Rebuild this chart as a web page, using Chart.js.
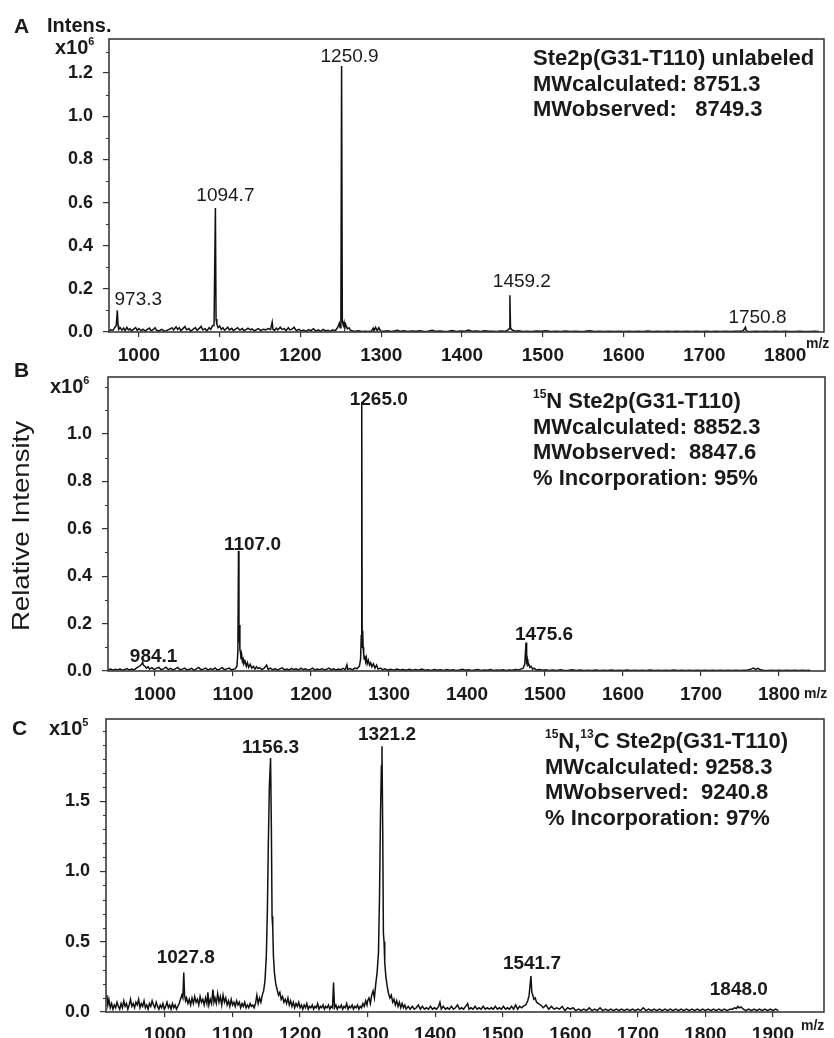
<!DOCTYPE html>
<html>
<head>
<meta charset="utf-8">
<title>Ste2p(G31-T110) MALDI spectra</title>
<script src="https://cdn.jsdelivr.net/npm/chart.js@4.4.1/dist/chart.umd.min.js"></script>
<style>
  html, body { margin: 0; padding: 0; background: #fff; }
  #wrap { position: relative; width: 834px; height: 1038px; overflow: hidden; }
  canvas { position: absolute; left: 0; }
</style>
</head>
<body>
<div id="wrap">
  <canvas id="panelA" width="834" height="372" style="top:0px"></canvas>
  <canvas id="panelB" width="834" height="372" style="top:340px"></canvas>
  <canvas id="panelC" width="834" height="358" style="top:680px"></canvas>
</div>
<script>
// ---- data: [m/z, intensity] ----
// A: unlabeled, intensity x10^6
const spectrumA = [
  [963,0.005],[965,0.01],[968,0.008],[970,0.02],[972,0.03],[973.3,0.10],[974.2,0.03],[975,0.012],[977,0.02],[979,0.008],
  [981,0.018],[983,0.006],[985,0.022],[987,0.01],[989,0.015],[991,0.005],[993,0.012],[996,0.02],[998,0.007],[1000,0.016],
  [1003,0.006],[1005,0.013],[1008,0.004],[1010,0.011],[1013,0.018],[1015,0.006],[1018,0.012],[1020,0.02],[1022,0.008],[1025,0.005],
  [1028,0.012],[1030,0.008],[1033,0.003],[1036,0.01],[1039,0.015],[1041,0.02],[1043,0.009],[1046,0.024],[1048,0.012],[1050,0.02],
  [1052,0.006],[1055,0.018],[1057,0.025],[1059,0.01],[1062,0.016],[1064,0.004],[1067,0.012],[1070,0.02],[1072,0.008],[1075,0.018],
  [1077,0.026],[1079,0.01],[1082,0.015],[1084,0.005],[1087,0.02],[1089,0.012],[1091,0.028],[1093,0.03],[1094.7,0.575],[1095.5,0.06],
  [1096.5,0.035],[1098,0.02],[1100,0.028],[1102,0.012],[1104,0.02],[1106,0.008],[1108,0.015],[1110,0.022],[1112,0.01],[1115,0.017],
  [1117,0.006],[1120,0.014],[1122,0.02],[1125,0.009],[1128,0.016],[1130,0.006],[1133,0.012],[1135,0.018],[1138,0.01],[1140,0.014],
  [1143,0.005],[1146,0.012],[1148,0.016],[1151,0.007],[1154,0.013],[1157,0.01],[1160,0.016],[1163,0.012],[1165,0.046],[1166,0.012],
  [1168,0.008],[1170,0.018],[1172,0.01],[1175,0.022],[1177,0.012],[1180,0.016],[1182,0.006],[1185,0.02],[1187,0.01],[1190,0.014],
  [1192,0.022],[1195,0.006],[1198,0.012],[1201,0.005],[1204,0.009],[1207,0.003],[1210,0.011],[1213,0.006],[1216,0.015],[1219,0.004],
  [1222,0.01],[1225,0.003],[1228,0.012],[1231,0.005],[1234,0.008],[1237,0.003],[1240,0.01],[1243,0.006],[1245,0.015],[1247,0.03],
  [1248,0.04],[1249,0.02],[1250,0.04],[1250.9,1.233],[1251.8,0.05],[1253,0.03],[1254,0.045],[1255,0.02],[1256,0.035],[1258,0.015],
  [1260,0.02],[1262,0.008],[1265,0.005],[1268,0.003],[1272,0.006],[1276,0.002],[1280,0.004],[1284,0.002],[1288,0.005],[1290,0.018],
  [1291,0.004],[1293,0.022],[1295,0.006],[1297,0.02],[1299,0.005],[1303,0.003],[1308,0.006],[1312,0.002],[1316,0.005],[1320,0.008],
  [1324,0.003],[1328,0.006],[1333,0.002],[1338,0.005],[1343,0.003],[1348,0.006],[1353,0.002],[1358,0.004],[1363,0.008],[1368,0.003],
  [1373,0.005],[1378,0.002],[1383,0.004],[1388,0.007],[1393,0.002],[1398,0.005],[1403,0.003],[1408,0.009],[1413,0.003],[1418,0.005],
  [1423,0.002],[1428,0.006],[1433,0.003],[1438,0.004],[1443,0.002],[1448,0.005],[1452,0.003],[1455,0.006],[1457,0.01],[1458.3,0.015],
  [1459.2,0.17],[1460,0.02],[1461,0.012],[1463,0.008],[1466,0.004],[1470,0.006],[1475,0.002],[1480,0.004],[1486,0.002],[1492,0.005],
  [1498,0.003],[1504,0.006],[1510,0.002],[1516,0.004],[1522,0.002],[1528,0.005],[1534,0.002],[1540,0.004],[1546,0.002],[1552,0.003],
  [1558,0.006],[1564,0.002],[1570,0.003],[1576,0.002],[1582,0.004],[1588,0.002],[1594,0.003],[1600,0.002],[1606,0.004],[1612,0.002],
  [1618,0.003],[1624,0.002],[1630,0.005],[1636,0.002],[1642,0.003],[1648,0.002],[1654,0.004],[1660,0.002],[1666,0.003],[1672,0.002],
  [1678,0.004],[1684,0.002],[1690,0.003],[1696,0.002],[1702,0.004],[1708,0.002],[1714,0.003],[1720,0.002],[1726,0.003],[1732,0.002],
  [1738,0.003],[1744,0.004],[1748,0.006],[1750.8,0.022],[1751.6,0.008],[1753,0.004],[1758,0.002],[1764,0.003],[1770,0.002],[1776,0.003],
  [1782,0.002],[1788,0.003],[1794,0.002],[1800,0.003],[1806,0.002],[1812,0.002],[1818,0.003],[1824,0.002],[1830,0.002],[1836,0.003],
  [1842,0.002]
]
const peakMzA = [973.3, 1094.7, 1250.9, 1459.2, 1750.8]
const peakIntA = [0.10, 0.575, 1.233, 0.17, 0.022]
const peakTextA = ['973.3', '1094.7', '1250.9', '1459.2', '1750.8']
const infoA = [
  [['Ste2p(G31-T110) unlabeled', false]],
  [['MWcalculated: 8751.3', false]],
  [['MWobserved:   8749.3', false]]
]

// B: 15N labelled, intensity x10^6
const spectrumB = [
  [940,0.004],[943,0.008],[946,0.003],[949,0.007],[952,0.004],[955,0.009],[958,0.003],[961,0.006],[964,0.01],[967,0.004],
  [970,0.008],[973,0.005],[976,0.012],[979,0.018],[981,0.022],[983,0.03],[984.1,0.037],[985,0.025],[987,0.02],[989,0.012],
  [991,0.018],[993,0.008],[996,0.014],[999,0.006],[1002,0.012],[1005,0.015],[1008,0.005],[1011,0.01],[1014,0.016],[1017,0.006],
  [1020,0.011],[1023,0.004],[1026,0.009],[1029,0.015],[1032,0.005],[1035,0.008],[1038,0.012],[1041,0.004],[1044,0.007],[1047,0.011],
  [1050,0.003],[1053,0.009],[1056,0.015],[1059,0.005],[1062,0.008],[1065,0.012],[1068,0.004],[1071,0.01],[1074,0.006],[1077,0.013],
  [1080,0.004],[1083,0.008],[1086,0.015],[1089,0.005],[1092,0.009],[1095,0.012],[1098,0.005],[1101,0.008],[1103,0.01],[1105,0.02],
  [1106.2,0.08],[1107.0,0.506],[1107.6,0.12],[1108.2,0.194],[1108.8,0.09],[1109.5,0.08],[1110.2,0.05],[1111,0.07],[1112,0.04],[1113,0.05],
  [1114,0.03],[1115.5,0.04],[1117,0.02],[1118.5,0.035],[1120,0.015],[1122,0.028],[1124,0.012],[1126,0.02],[1128,0.008],[1130,0.018],
  [1132,0.01],[1134,0.014],[1137,0.006],[1140,0.012],[1143,0.025],[1145,0.007],[1148,0.012],[1151,0.005],[1154,0.01],[1157,0.004],
  [1160,0.009],[1163,0.013],[1166,0.005],[1169,0.008],[1172,0.004],[1175,0.011],[1178,0.006],[1181,0.009],[1184,0.004],[1187,0.012],
  [1190,0.006],[1193,0.009],[1196,0.003],[1199,0.007],[1202,0.012],[1205,0.004],[1208,0.008],[1211,0.005],[1214,0.01],[1217,0.004],
  [1220,0.007],[1223,0.012],[1226,0.005],[1229,0.009],[1232,0.004],[1235,0.008],[1238,0.005],[1241,0.011],[1244,0.006],[1246,0.026],
  [1247,0.007],[1250,0.01],[1253,0.005],[1256,0.012],[1259,0.01],[1262,0.02],[1263.5,0.05],[1264.4,0.15],[1265.0,1.135],[1265.6,0.1],
  [1266.2,0.17],[1266.8,0.1],[1267.5,0.07],[1268.3,0.05],[1269,0.065],[1270,0.04],[1271,0.055],[1272,0.03],[1273.5,0.045],[1275,0.025],
  [1276.5,0.035],[1278,0.018],[1280,0.03],[1282,0.012],[1284,0.025],[1286,0.008],[1289,0.012],[1292,0.005],[1295,0.009],[1298,0.004],
  [1302,0.007],[1306,0.003],[1310,0.008],[1314,0.004],[1318,0.006],[1322,0.003],[1326,0.007],[1330,0.003],[1334,0.006],[1338,0.003],
  [1342,0.008],[1346,0.003],[1350,0.005],[1354,0.002],[1358,0.006],[1362,0.003],[1366,0.005],[1370,0.002],[1374,0.006],[1378,0.003],
  [1382,0.005],[1386,0.002],[1390,0.004],[1394,0.007],[1398,0.003],[1402,0.005],[1406,0.002],[1410,0.004],[1414,0.006],[1418,0.002],
  [1422,0.004],[1426,0.003],[1430,0.006],[1434,0.002],[1438,0.004],[1442,0.003],[1446,0.005],[1450,0.002],[1454,0.004],[1458,0.003],
  [1462,0.006],[1466,0.004],[1469,0.008],[1472,0.012],[1474,0.03],[1475.6,0.12],[1476.4,0.04],[1477.2,0.05],[1478,0.025],[1479,0.03],
  [1480.5,0.015],[1482,0.02],[1484,0.008],[1486,0.012],[1489,0.004],[1493,0.006],[1497,0.003],[1501,0.005],[1505,0.002],[1510,0.004],
  [1515,0.002],[1520,0.005],[1525,0.002],[1530,0.003],[1535,0.005],[1540,0.002],[1545,0.004],[1550,0.002],[1555,0.003],[1560,0.002],
  [1565,0.004],[1570,0.002],[1575,0.003],[1580,0.002],[1585,0.004],[1590,0.002],[1595,0.003],[1600,0.002],[1605,0.004],[1610,0.002],
  [1615,0.003],[1620,0.002],[1625,0.003],[1630,0.002],[1635,0.004],[1640,0.002],[1645,0.003],[1650,0.002],[1655,0.003],[1660,0.002],
  [1665,0.004],[1670,0.002],[1675,0.003],[1680,0.002],[1685,0.003],[1690,0.002],[1695,0.003],[1700,0.002],[1705,0.003],[1710,0.002],
  [1715,0.003],[1720,0.002],[1725,0.003],[1730,0.002],[1735,0.003],[1740,0.002],[1745,0.003],[1750,0.002],[1755,0.003],[1760,0.004],
  [1764,0.008],[1767,0.012],[1770,0.007],[1773,0.011],[1776,0.005],[1780,0.003],[1785,0.002],[1790,0.003],[1795,0.002],[1800,0.003],
  [1805,0.002],[1810,0.003],[1815,0.002],[1820,0.003],[1825,0.002],[1830,0.003],[1835,0.002],[1840,0.003]
]
const peakMzB = [984.1, 1107.0, 1265.0, 1475.6]
const peakIntB = [0.037, 0.506, 1.135, 0.12]
const peakTextB = ['984.1', '1107.0', '1265.0', '1475.6']
const infoB = [
  [['15', true], ['N Ste2p(G31-T110)', false]],
  [['MWcalculated: 8852.3', false]],
  [['MWobserved:  8847.6', false]],
  [['% Incorporation: 95%', false]]
]

// C: 15N,13C labelled, intensity x10^5
const spectrumC = [
  [914,0.12],[915.5,0.05],[917,0.09],[919,0.03],[921,0.06],[923,0.02],[925,0.05],[927,0.03],[929,0.07],[931,0.04],
  [933,0.02],[935,0.06],[937,0.03],[939,0.08],[941,0.04],[943,0.06],[945,0.02],[947,0.05],[949,0.09],[951,0.04],
  [953,0.06],[955,0.03],[957,0.07],[959,0.05],[961,0.09],[963,0.03],[965,0.06],[967,0.04],[969,0.08],[971,0.03],
  [973,0.05],[975,0.02],[977,0.06],[979,0.04],[981,0.08],[983,0.05],[985,0.03],[987,0.07],[989,0.04],[991,0.02],
  [993,0.05],[995,0.03],[997,0.06],[999,0.02],[1001,0.04],[1003,0.07],[1005,0.03],[1007,0.05],[1009,0.02],[1011,0.06],
  [1013,0.03],[1015,0.05],[1017,0.02],[1019,0.04],[1021,0.06],[1023,0.09],[1025,0.12],[1026.5,0.1],[1027.8,0.28],[1029,0.12],
  [1030.5,0.08],[1032,0.1],[1034,0.06],[1036,0.09],[1038,0.05],[1040,0.1],[1042,0.06],[1044,0.11],[1046,0.07],[1048,0.09],
  [1050,0.05],[1052,0.11],[1054,0.07],[1056,0.09],[1058,0.05],[1060,0.1],[1062,0.06],[1063.5,0.14],[1065,0.05],[1067,0.09],
  [1069,0.06],[1071,0.16],[1072.5,0.07],[1074,0.1],[1076,0.06],[1078,0.13],[1080,0.07],[1082,0.11],[1084,0.05],[1086,0.12],
  [1088,0.07],[1090,0.1],[1092,0.05],[1094,0.08],[1096,0.04],[1098,0.09],[1100,0.05],[1102,0.07],[1104,0.04],[1106,0.08],
  [1108,0.05],[1110,0.07],[1112,0.03],[1114,0.06],[1116,0.04],[1118,0.07],[1120,0.03],[1122,0.05],[1124,0.03],[1126,0.06],
  [1128,0.04],[1130,0.05],[1132,0.03],[1134,0.06],[1136,0.12],[1138,0.06],[1140,0.1],[1142,0.07],[1144,0.12],[1146,0.15],
  [1148,0.22],[1150,0.4],[1151.5,0.7],[1153,1.2],[1154.5,1.6],[1156.3,1.807],[1157.5,1.3],[1158.5,0.68],[1159.5,0.6],[1160.5,0.4],
  [1162,0.28],[1164,0.2],[1166,0.16],[1168,0.12],[1170,0.14],[1172,0.09],[1174,0.11],[1176,0.07],[1178,0.09],[1180,0.06],
  [1182,0.1],[1184,0.05],[1186,0.08],[1188,0.04],[1190,0.07],[1192,0.03],[1194,0.06],[1196,0.04],[1198,0.07],[1200,0.03],
  [1202,0.05],[1204,0.02],[1206,0.05],[1208,0.03],[1210,0.06],[1212,0.02],[1214,0.04],[1216,0.03],[1218,0.05],[1220,0.02],
  [1222,0.04],[1224,0.03],[1226,0.06],[1228,0.02],[1230,0.04],[1232,0.03],[1234,0.05],[1236,0.02],[1238,0.04],[1240,0.03],
  [1242,0.05],[1244,0.02],[1246,0.04],[1248,0.03],[1249.5,0.21],[1251,0.03],[1253,0.05],[1255,0.02],[1257,0.04],[1259,0.03],
  [1261,0.05],[1263,0.02],[1265,0.04],[1267,0.03],[1269,0.06],[1271,0.02],[1273,0.04],[1275,0.03],[1277,0.05],[1279,0.02],
  [1281,0.04],[1283,0.03],[1285,0.05],[1287,0.02],[1289,0.04],[1291,0.03],[1293,0.06],[1295,0.04],[1297,0.08],[1299,0.05],
  [1300,0.08],[1302,0.1],[1304,0.06],[1306,0.12],[1308,0.15],[1310,0.1],[1312,0.2],[1314,0.28],[1316,0.42],[1317.5,0.8],
  [1319,1.4],[1320.3,1.75],[1321.2,1.89],[1322.3,1.3],[1323.3,0.56],[1324.3,0.5],[1325.3,0.35],[1327,0.25],[1329,0.18],[1331,0.13],
  [1333,0.1],[1335,0.12],[1337,0.07],[1339,0.09],[1341,0.05],[1343,0.08],[1345,0.04],[1347,0.07],[1349,0.03],[1351,0.06],
  [1353,0.03],[1355,0.05],[1357,0.02],[1360,0.04],[1363,0.02],[1366,0.04],[1369,0.02],[1372,0.03],[1375,0.05],[1378,0.02],
  [1381,0.04],[1384,0.02],[1387,0.03],[1390,0.02],[1393,0.04],[1396,0.02],[1399,0.03],[1402,0.02],[1405,0.04],[1407,0.07],
  [1409,0.02],[1412,0.04],[1415,0.02],[1418,0.03],[1421,0.02],[1424,0.04],[1427,0.02],[1430,0.03],[1433,0.05],[1436,0.02],
  [1439,0.03],[1442,0.02],[1445,0.04],[1448,0.06],[1450,0.02],[1453,0.03],[1456,0.02],[1459,0.04],[1462,0.02],[1465,0.03],
  [1468,0.02],[1471,0.04],[1474,0.02],[1477,0.03],[1480,0.02],[1483,0.03],[1486,0.02],[1489,0.04],[1492,0.02],[1495,0.03],
  [1498,0.02],[1501,0.04],[1504,0.02],[1507,0.03],[1510,0.02],[1513,0.04],[1516,0.02],[1519,0.05],[1522,0.02],[1525,0.04],
  [1528,0.03],[1530,0.04],[1534,0.05],[1537,0.08],[1539,0.12],[1541.7,0.256],[1543,0.14],[1544.5,0.12],[1546,0.09],[1548,0.1],
  [1550,0.07],[1553,0.06],[1556,0.05],[1560,0.03],[1564,0.05],[1568,0.02],[1572,0.04],[1576,0.02],[1580,0.03],[1584,0.02],
  [1588,0.04],[1592,0.01],[1596,0.03],[1600,0.02],[1604,0.03],[1608,0.01],[1612,0.02],[1616,0.01],[1620,0.02],[1624,0.01],
  [1628,0.03],[1632,0.01],[1636,0.02],[1640,0.01],[1644,0.03],[1648,0.01],[1652,0.02],[1656,0.01],[1660,0.02],[1664,0.01],
  [1668,0.02],[1672,0.01],[1676,0.02],[1680,0.01],[1684,0.02],[1688,0.01],[1692,0.02],[1696,0.01],[1700,0.02],[1704,0.01],
  [1708,0.03],[1712,0.01],[1716,0.02],[1720,0.01],[1724,0.02],[1728,0.01],[1732,0.02],[1736,0.01],[1740,0.02],[1744,0.01],
  [1748,0.02],[1752,0.01],[1756,0.02],[1760,0.01],[1764,0.02],[1768,0.01],[1772,0.02],[1776,0.01],[1780,0.02],[1784,0.01],
  [1788,0.02],[1792,0.01],[1796,0.02],[1800,0.01],[1804,0.02],[1808,0.01],[1812,0.02],[1816,0.01],[1820,0.02],[1824,0.01],
  [1828,0.02],[1832,0.01],[1836,0.02],[1840,0.02],[1843,0.03],[1846,0.025],[1848,0.04],[1850,0.03],[1853,0.035],[1856,0.02],
  [1860,0.01],[1864,0.02],[1868,0.01],[1872,0.02],[1876,0.01],[1880,0.02],[1884,0.01],[1888,0.02],[1892,0.01],[1896,0.02],
  [1900,0.01],[1904,0.02],[1908,0.01]
]
const peakMzC = [1027.8, 1156.3, 1321.2, 1541.7, 1848.0]
const peakIntC = [0.28, 1.807, 1.89, 0.256, 0.04]
const peakTextC = ['1027.8', '1156.3', '1321.2', '1541.7', '1848.0']
const infoC = [
  [['15', true], ['N,', false], ['13', true], ['C Ste2p(G31-T110)', false]],
  [['MWcalculated: 9258.3', false]],
  [['MWobserved:  9240.8', false]],
  [['% Incorporation: 97%', false]]
]

// ---- axis ticks ----
const xTicksAB = [1000, 1100, 1200, 1300, 1400, 1500, 1600, 1700, 1800]
const xLabelsAB = ['1000', '1100', '1200', '1300', '1400', '1500', '1600', '1700', '1800']
const xTicksC = [1000, 1100, 1200, 1300, 1400, 1500, 1600, 1700, 1800, 1900]
const xLabelsC = ['1000', '1100', '1200', '1300', '1400', '1500', '1600', '1700', '1800', '1900']
const yTicksA = [0, 0.1, 0.2, 0.3, 0.4, 0.5, 0.6, 0.7, 0.8, 0.9, 1.0, 1.1, 1.2, 1.3]
const yLabelsA = ['0.0', '', '0.2', '', '0.4', '', '0.6', '', '0.8', '', '1.0', '', '1.2', '']
const yTicksB = [0, 0.1, 0.2, 0.3, 0.4, 0.5, 0.6, 0.7, 0.8, 0.9, 1.0, 1.1, 1.2]
const yLabelsB = ['0.0', '', '0.2', '', '0.4', '', '0.6', '', '0.8', '', '1.0', '', '']
const yTicksC = [0, 0.1, 0.2, 0.3, 0.4, 0.5, 0.6, 0.7, 0.8, 0.9, 1.0, 1.1, 1.2, 1.3, 1.4, 1.5, 1.6, 1.7, 1.8, 1.9, 2.0]
const yLabelsC = ['0.0', '', '', '', '', '0.5', '', '', '', '', '1.0', '', '', '', '', '1.5', '', '', '', '', '']

const FONT = '"Liberation Sans", Arial, Helvetica, sans-serif'
const INK = '#1a1a1a'

function text(ctx, s, x, y, size, weight, align){
  ctx.font = (weight || 'bold') + ' ' + size + 'px ' + FONT
  ctx.textAlign = align || 'left'
  ctx.textBaseline = 'alphabetic'
  ctx.fillText(s, x, y)
  return ctx.measureText(s).width
}

// runs of [string, superscript?]
function richText(ctx, runs, x, y, size){
  let cx = x
  for (const [s, sup] of runs)
    cx += text(ctx, s, cx, sup ? y - Math.round(size * 0.45) : y, sup ? Math.round(size * 0.55) : size, 'bold', 'left')
}

function overlay(p){
  return {
    id: 'overlay',
    afterDraw(chart){
      const ctx = chart.ctx, a = chart.chartArea
      const xs = chart.scales.x, ys = chart.scales.y
      ctx.save()
      // short minor ticks on y
      ctx.strokeStyle = '#333'
      ctx.lineWidth = 1
      ys.ticks.forEach(t => {
        if (t.label) return
        const y = Math.round(ys.getPixelForValue(t.value)) + 0.5
        ctx.beginPath(); ctx.moveTo(a.left - 3, y); ctx.lineTo(a.left, y); ctx.stroke()
      })
      // frame
      ctx.lineWidth = 1.6
      ctx.strokeStyle = '#3a3a3a'
      ctx.strokeRect(a.left, a.top, a.right - a.left, a.bottom - a.top)

      ctx.fillStyle = INK
      p.peakMz.forEach((mz, i) => {
        const px = xs.getPixelForValue(mz) + p.peakDx[i]
        const py = ys.getPixelForValue(p.peakInt[i]) + p.peakDy[i]
        text(ctx, p.peakText[i], px, py, 19, p.peakWeight, 'center')
      })
      p.info.forEach((runs, i) => richText(ctx, runs, p.infoX[i], p.infoY[i], 22))

      text(ctx, p.letter, p.letterPos[0], p.letterPos[1], 21, 'bold')
      richText(ctx, [['x10', false], [p.exp, true]], p.expPos[0], p.expPos[1], 20)
      text(ctx, 'm/z', p.unitPos[0], p.unitPos[1], 14, 'bold')
      if (p.extra) p.extra(ctx)
      ctx.restore()
    }
  }
}

function buildPanel(id, spectrum, p){
  return new Chart(document.getElementById(id), {
    type: 'scatter',
    data: {
      datasets: [{
        data: spectrum.map(([x, y]) => ({x, y})),
        showLine: true,
        borderColor: '#111',
        borderWidth: 1.5,
        pointRadius: 0,
        tension: 0
      }]
    },
    options: {
      responsive: false,
      animation: false,
      devicePixelRatio: 1,
      layout: { padding: { top: p.top, right: p.right, left: 0, bottom: 0 } },
      plugins: { legend: { display: false }, tooltip: { enabled: false } },
      scales: {
        x: {
          type: 'linear', min: p.xMin, max: p.xMax,
          afterFit: s => { s.height = p.xHeight },
          afterBuildTicks: s => { s.ticks = p.xTicks.map(v => ({value: v})) },
          ticks: {
            autoSkip: false, maxRotation: 0, padding: p.xPad, color: INK,
            font: { family: FONT, size: 19, weight: 'bold' },
            callback: (v, i) => p.xLabels[i]
          },
          grid: { drawOnChartArea: false, tickLength: 5, tickColor: '#333', lineWidth: 1.2 },
          border: { display: false }
        },
        y: {
          type: 'linear', min: 0, max: p.yMax,
          afterFit: s => { s.width = p.left },
          afterBuildTicks: s => { s.ticks = p.yTicks.map(v => ({value: v})) },
          ticks: {
            autoSkip: false, padding: 10, color: INK,
            font: { family: FONT, size: 18, weight: 'bold' },
            callback: (v, i) => p.yLabels[i]
          },
          grid: {
            drawOnChartArea: false, tickLength: 6, lineWidth: 1.2,
            tickColor: c => p.yLabels[c.index] ? '#333' : 'rgba(0,0,0,0)'
          },
          border: { display: false }
        }
      }
    },
    plugins: [overlay(p)]
  })
}

buildPanel('panelA', spectrumA, {
  top: 39, right: 10, left: 109, xHeight: 40, xPad: 7,
  xMin: 963, xMax: 1848, yMax: 1.358,
  xTicks: xTicksAB, xLabels: xLabelsAB, yTicks: yTicksA, yLabels: yLabelsA,
  peakMz: peakMzA, peakInt: peakIntA, peakText: peakTextA,
  peakDx: [21, 10, 8, 12, 12], peakDy: [-5, -7, -4, -8, -4], peakWeight: 'normal',
  info: infoA, infoX: [533, 533, 533], infoY: [65, 91, 116],
  letter: 'A', letterPos: [14, 33], exp: '6', expPos: [55, 54], unitPos: [806, 348],
  extra: ctx => text(ctx, 'Intens.', 47, 32, 20, 'bold')
})

buildPanel('panelB', spectrumB, {
  top: 37, right: 9, left: 108, xHeight: 41, xPad: 7,
  xMin: 939.7, xMax: 1858.9, yMax: 1.2405,
  xTicks: xTicksAB, xLabels: xLabelsAB, yTicks: yTicksB, yLabels: yLabelsB,
  peakMz: peakMzB, peakInt: peakIntB, peakText: peakTextB,
  peakDx: [11, 14, 17, 18], peakDy: [0, -1, 3, -3], peakWeight: 'bold',
  info: infoB, infoX: [533, 533, 533, 533], infoY: [68, 94, 119, 145],
  letter: 'B', letterPos: [14, 37], exp: '6', expPos: [50, 53], unitPos: [804, 358],
  extra: ctx => {
    ctx.save()
    ctx.translate(29, 186)
    ctx.rotate(-Math.PI / 2)
    ctx.scale(1.15, 1)
    text(ctx, 'Relative Intensity', 0, 0, 24, 'normal', 'center')
    ctx.restore()
  }
})

buildPanel('panelC', spectrumC, {
  top: 39, right: 10, left: 106, xHeight: 26, xPad: 6,
  xMin: 912.7, xMax: 1975.5, yMax: 2.084,
  xTicks: xTicksC, xLabels: xLabelsC, yTicks: yTicksC, yLabels: yLabelsC,
  peakMz: peakMzC, peakInt: peakIntC, peakText: peakTextC,
  peakDx: [2, 0, 5, 1, 1], peakDy: [-10, -5, -6, -7, -11], peakWeight: 'bold',
  info: infoC, infoX: [545, 545, 545, 545], infoY: [68, 94, 119, 145],
  letter: 'C', letterPos: [12, 55], exp: '5', expPos: [49, 55], unitPos: [801, 350]
})
</script>
</body>
</html>
